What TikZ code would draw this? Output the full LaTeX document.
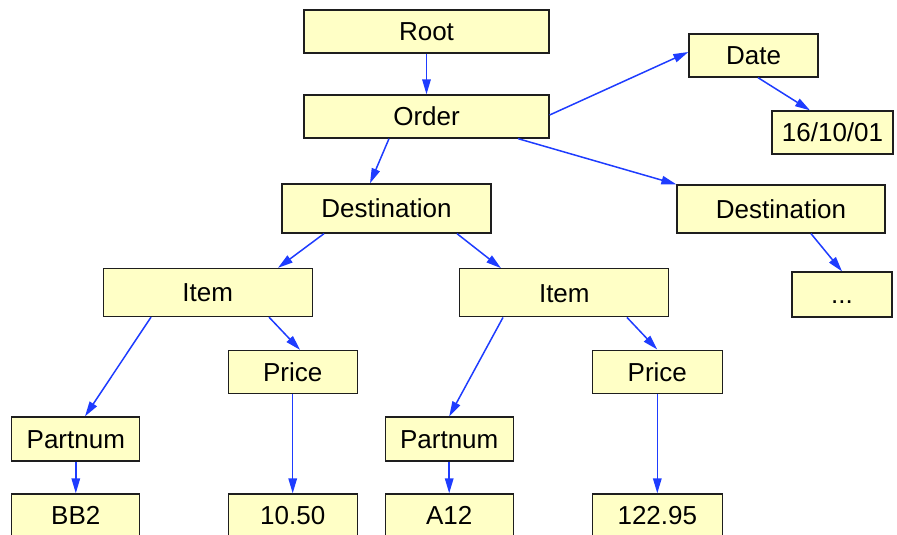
\documentclass[tikz,border=0pt]{standalone}
\usepackage{fontspec}
\setmainfont{Liberation Sans}
\usetikzlibrary{arrows.meta,calc}
\definecolor{boxfill}{RGB}{255,255,198}
\definecolor{edgeblue}{RGB}{30,60,255}
\definecolor{boxline}{RGB}{30,30,30}
\begin{document}
\begin{tikzpicture}[x=1bp,y=-1bp,
  box/.style={draw=boxline,fill=boxfill,line width=1.3bp,rectangle,inner sep=0pt,
    text height=18.6bp,text depth=0pt,
    font=\fontsize{26bp}{30bp}\selectfont},
  edge/.style={draw=edgeblue,line width=1.5bp,-{Triangle[length=15bp,width=8.5bp]}}]
\useasboundingbox (0,0) rectangle (897,535);
\clip (0,0) rectangle (897,535);
% nodes
\node[box,minimum width=245bp,minimum height=43bp] (root) at (426.5,31.5) {Root};
\node[box,minimum width=245bp,minimum height=43bp] (order) at (426.5,116.5) {Order};
\node[box,minimum width=129bp,minimum height=43bp] (date) at (753.5,55.5) {Date};
\node[box,minimum width=121bp,minimum height=43bp] (dt) at (832.5,132.5) {16/10/01};
\node[box,minimum width=209bp,minimum height=49bp] (destL) at (386.5,208.5) {Destination};
\node[box,minimum width=208bp,minimum height=48bp] (destR) at (781,209) {Destination};
\node[box,minimum width=100bp,minimum height=45bp] (dots) at (842,294.5) {...};
\node[box,minimum width=209bp,minimum height=48bp] (itemL) at (207.7,292.5) {Item};
\node[box,minimum width=209bp,minimum height=48bp] (itemR) at (564.3,292.8) {Item};
\node[box,minimum width=129bp,minimum height=43bp] (priceL) at (292.7,372) {Price};
\node[box,minimum width=130bp,minimum height=43bp] (priceR) at (657.3,371.7) {Price};
\node[box,minimum width=128bp,minimum height=44bp] (partL) at (75.8,439) {Partnum};
\node[box,minimum width=128bp,minimum height=44bp] (partR) at (449.2,439) {Partnum};
\node[box,minimum width=128bp,minimum height=43bp] (bb2) at (75.8,515.5) {BB2};
\node[box,minimum width=129bp,minimum height=43bp] (v1050) at (292.7,515.5) {10.50};
\node[box,minimum width=128bp,minimum height=43bp] (a12) at (449.2,515.5) {A12};
\node[box,minimum width=130bp,minimum height=43bp] (v12295) at (657.3,515.5) {122.95};
% edges
\draw[edge] (root.south) -- (order.north);
\draw[edge] ($(order.east)+(0,-1.5)$) -- ($(date.west)+(0,-3.5)$);
\draw[edge] ($(date.south)+(4.5,0)$) -- ($(dt.north)+(-22.5,0)$);
\draw[edge] ($(order.south)+(-37.5,0)$) -- ($(destL.north)+(-16.5,0)$);
\draw[edge] ($(order.south)+(91.5,0)$) -- (destR.north west);
\draw[edge] ($(destR.south)+(30,0)$) -- (dots.north);
\draw[edge] ($(destL.south)+(-62.5,0)$) -- ($(itemL.north)+(70.3,0)$);
\draw[edge] ($(destL.south)+(70.5,0)$) -- ($(itemR.north)+(-63.3,0)$);
\draw[edge] ($(itemL.south)+(-56.7,0)$) -- ($(partL.north)+(9.2,0)$);
\draw[edge] ($(itemL.south)+(61.3,0)$) -- ($(priceL.north)+(7.3,0)$);
\draw[edge] ($(itemR.south)+(-61.3,0)$) -- (partR.north);
\draw[edge] ($(itemR.south)+(62.7,0)$) -- (priceR.north);
\draw[edge] (partL.south) -- (bb2.north);
\draw[edge] (priceL.south) -- (v1050.north);
\draw[edge] (partR.south) -- (a12.north);
\draw[edge] (priceR.south) -- (v12295.north);
\end{tikzpicture}
\end{document}
